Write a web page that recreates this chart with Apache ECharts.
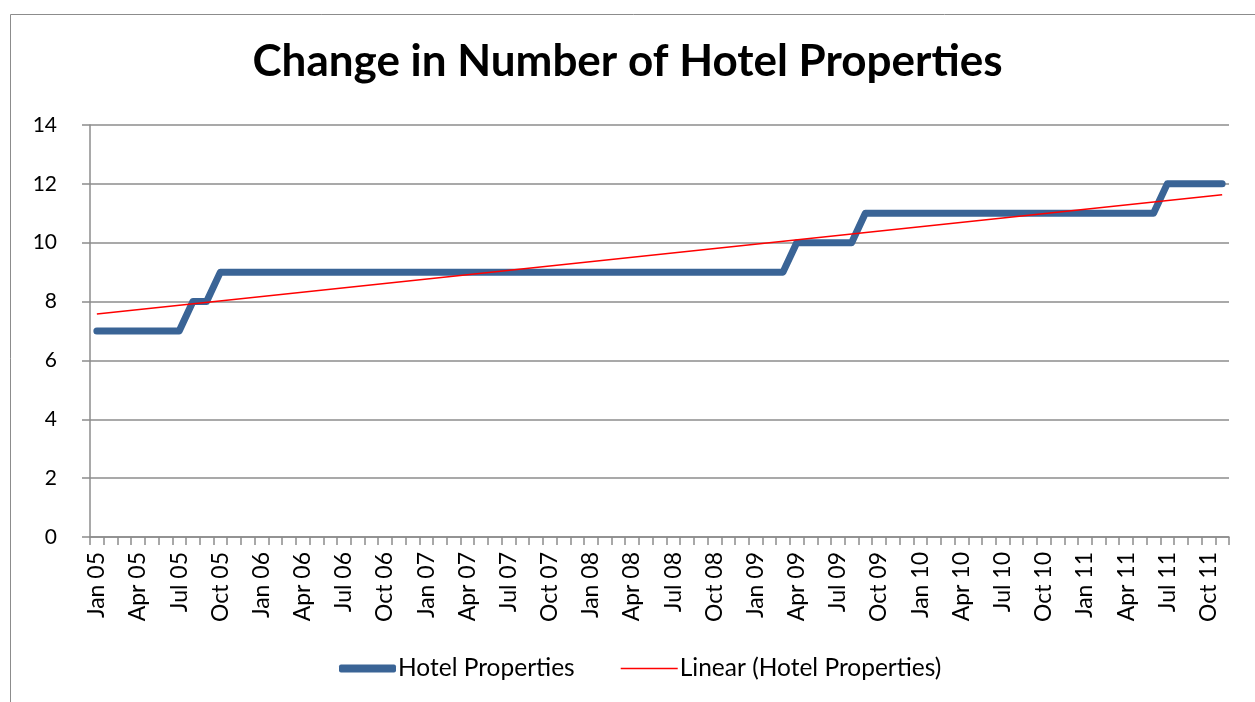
<!DOCTYPE html>
<html>
<head>
<meta charset="utf-8">
<script src="https://cdn.jsdelivr.net/npm/echarts@6/dist/echarts.min.js"></script>
<style>
  html, body { margin: 0; padding: 0; background: #fff; }
  #chart { width: 1255px; height: 702px; }
</style>
</head>
<body>
<div id="chart"></div>
<script>
// months Jan 05 .. Nov 11
const monthNames = ['Jan', 'Feb', 'Mar', 'Apr', 'May', 'Jun', 'Jul', 'Aug', 'Sep', 'Oct', 'Nov', 'Dec'];
const years = ['05', '06', '07', '08', '09', '10', '11'];
const months = [];
years.forEach((y) => {
  monthNames.forEach((m) => months.push(m + ' ' + y));
});
months.splice(83); // last one is Nov 11

const hotelProperties = [
  7, 7, 7, 7, 7, 7, 7, 8, 8, 9, 9, 9,           // 2005
  9, 9, 9, 9, 9, 9, 9, 9, 9, 9, 9, 9,           // 2006
  9, 9, 9, 9, 9, 9, 9, 9, 9, 9, 9, 9,           // 2007
  9, 9, 9, 9, 9, 9, 9, 9, 9, 9, 9, 9,           // 2008
  9, 9, 9, 10, 10, 10, 10, 10, 11, 11, 11, 11,  // 2009
  11, 11, 11, 11, 11, 11, 11, 11, 11, 11, 11, 11, // 2010
  11, 11, 11, 11, 11, 11, 12, 12, 12, 12, 12    // 2011
];

// trend line: value at first and last month
const trendEnds = [7.58, 11.63];

const yTicks = [0, 2, 4, 6, 8, 10, 12, 14];

const FONT = 'Lato';
const BLUE = '#3A6496';
const RED = '#FF0000';
const GRID_GRAY = '#8C8C8C';

const myChart = echarts.init(document.getElementById('chart'));

const option = {
  animation: false,
  backgroundColor: '#fff',
  textStyle: { fontFamily: FONT },
  graphic: [{
    type: 'rect',
    left: 8, top: 12,
    shape: { width: 1300, height: 760 },
    style: { fill: 'none', stroke: '#8C8C8C', lineWidth: 1 },
    silent: true,
  }],
  title: {
    text: 'Change in Number of Hotel Properties',
    left: 'center',
    top: 35,
    textStyle: { fontFamily: FONT, fontSize: 44, fontWeight: 'bold', color: '#000' },
  },
  legend: {
    top: 651,
    left: 334,
    itemGap: 46,
    itemWidth: 57,
    itemHeight: 8,
    textStyle: { fontFamily: FONT, fontSize: 24.5, color: '#000', padding: [0, 0, 0, -3] },
    data: [
      { name: 'Hotel Properties', icon: 'roundRect', itemStyle: { color: BLUE } },
      { name: 'Linear (Hotel Properties)', icon: 'path://M0,0 L100,0 L100,3 L0,3 Z', itemStyle: { color: RED } },
    ],
  },
  grid: { left: 90, right: 26, top: 125, bottom: 165 },
  xAxis: {
    type: 'category',
    data: months,
    boundaryGap: true,
    axisLine: { lineStyle: { color: GRID_GRAY, width: 1.5 } },
    axisTick: { show: true, interval: 0, length: 8, lineStyle: { color: GRID_GRAY, width: 1.5 } },
    axisLabel: {
      interval: 2,
      rotate: 90,
      margin: 15,
      fontFamily: FONT,
      fontSize: 23,
      color: '#000',
    },
  },
  yAxis: {
    type: 'value',
    min: yTicks[0],
    max: yTicks[yTicks.length - 1],
    interval: 2,
    axisLine: { show: true, lineStyle: { color: GRID_GRAY, width: 1.5 } },
    axisTick: { show: true, length: 8, lineStyle: { color: GRID_GRAY, width: 1.5 } },
    splitLine: { lineStyle: { color: GRID_GRAY, width: 1.5 } },
    axisLabel: { fontFamily: FONT, fontSize: 21, color: '#000', margin: 33 },
  },
  series: [
    {
      name: 'Hotel Properties',
      type: 'line',
      data: hotelProperties,
      showSymbol: false,
      symbol: 'none',
      lineStyle: { color: BLUE, width: 7, cap: 'round', join: 'round' },
      itemStyle: { color: BLUE },
      z: 2,
    },
    {
      name: 'Linear (Hotel Properties)',
      type: 'line',
      data: [[0, trendEnds[0]], [months.length - 1, trendEnds[1]]],
      showSymbol: false,
      symbol: 'none',
      lineStyle: { color: RED, width: 1.6 },
      itemStyle: { color: RED },
      z: 3,
    },
  ],
};

myChart.setOption(option);
window.onresize = function () {
  myChart.resize();
};
</script>
</body>
</html>
